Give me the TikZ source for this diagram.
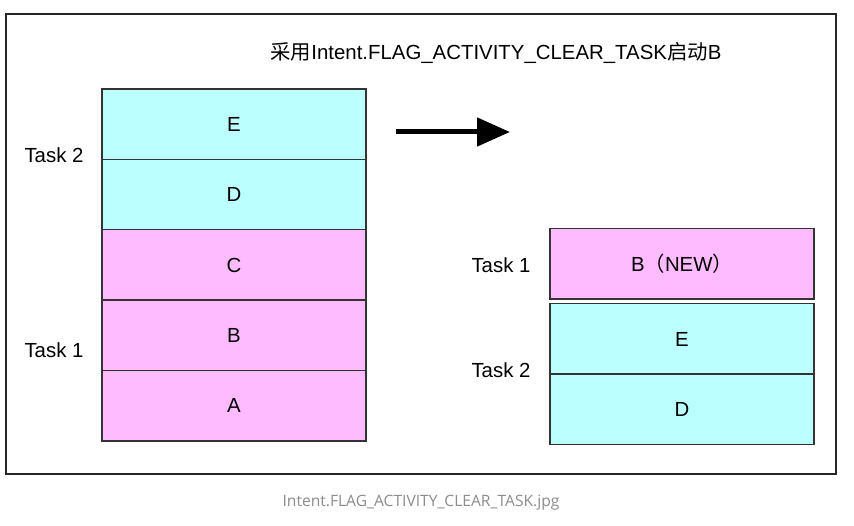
\documentclass[tikz,border=0pt]{standalone}
\usepackage{fontspec}
\setmainfont{Liberation Sans}
\newfontfamily\cjk{Noto Sans CJK SC}
\newfontfamily\capfont{Open Sans}
\usetikzlibrary{arrows.meta}
\definecolor{taskcyan}{HTML}{BBFFFF}
\definecolor{taskpink}{HTML}{FFBBFF}
\definecolor{boxline}{HTML}{333333}
\begin{document}
\begin{tikzpicture}[x=1pt, y=-1pt,
  font=\fontsize{20.4}{24}\selectfont,
  actbox/.style={draw=boxline, line width=1.4pt, rectangle, minimum width=264pt, minimum height=70.4pt, inner sep=0pt},
  cyanbox/.style={actbox, fill=taskcyan},
  pinkbox/.style={actbox, fill=taskpink},
  tasklabel/.style={inner sep=0pt}]

% Canvas and outer frame
\useasboundingbox (0,0) rectangle (854,526);
\draw[line width=1.6pt, draw=black!85] (6,14) rectangle (836,474);

% Title
\node (title) at (496,53) {{\cjk 采用}Intent.FLAG\_ACTIVITY\_CLEAR\_TASK{\cjk 启动}B};

% ========== Before: two tasks in the stack ==========
\node[cyanbox] (lE) at (234,124.2) {E};
\node[cyanbox] (lD) at (234,194.6) {D};
\node[pinkbox] (lC) at (234,265.0) {C};
\node[pinkbox] (lB) at (234,335.4) {B};
\node[pinkbox] (lA) at (234,405.8) {A};

\node[tasklabel] (lTask2) at (54,155) {Task 2};
\node[tasklabel] (lTask1) at (54,350) {Task 1};

% Arrow in between
\coordinate (arrS) at (396,132);
\coordinate (arrE) at (510,132);
\draw[line width=5pt, -{Triangle[length=33pt, width=28pt]}] (arrS) -- (arrE);

% ========== After: B starts in a cleared task ==========
\node[pinkbox] (rB) at (682,264) {B{\cjk （}NEW{\cjk ）}};
\node[cyanbox] (rE) at (682,339) {E};
\node[cyanbox] (rD) at (682,409.4) {D};

\node[tasklabel] (rTask1) at (501,265) {Task 1};
\node[tasklabel] (rTask2) at (501,370) {Task 2};

% Caption under the frame
\node[font=\capfont\fontsize{15.6}{18}\selectfont, text=black!45] (caption) at (421,503) {Intent.FLAG\_ACTIVITY\_CLEAR\_TASK.jpg};

\end{tikzpicture}
\end{document}
